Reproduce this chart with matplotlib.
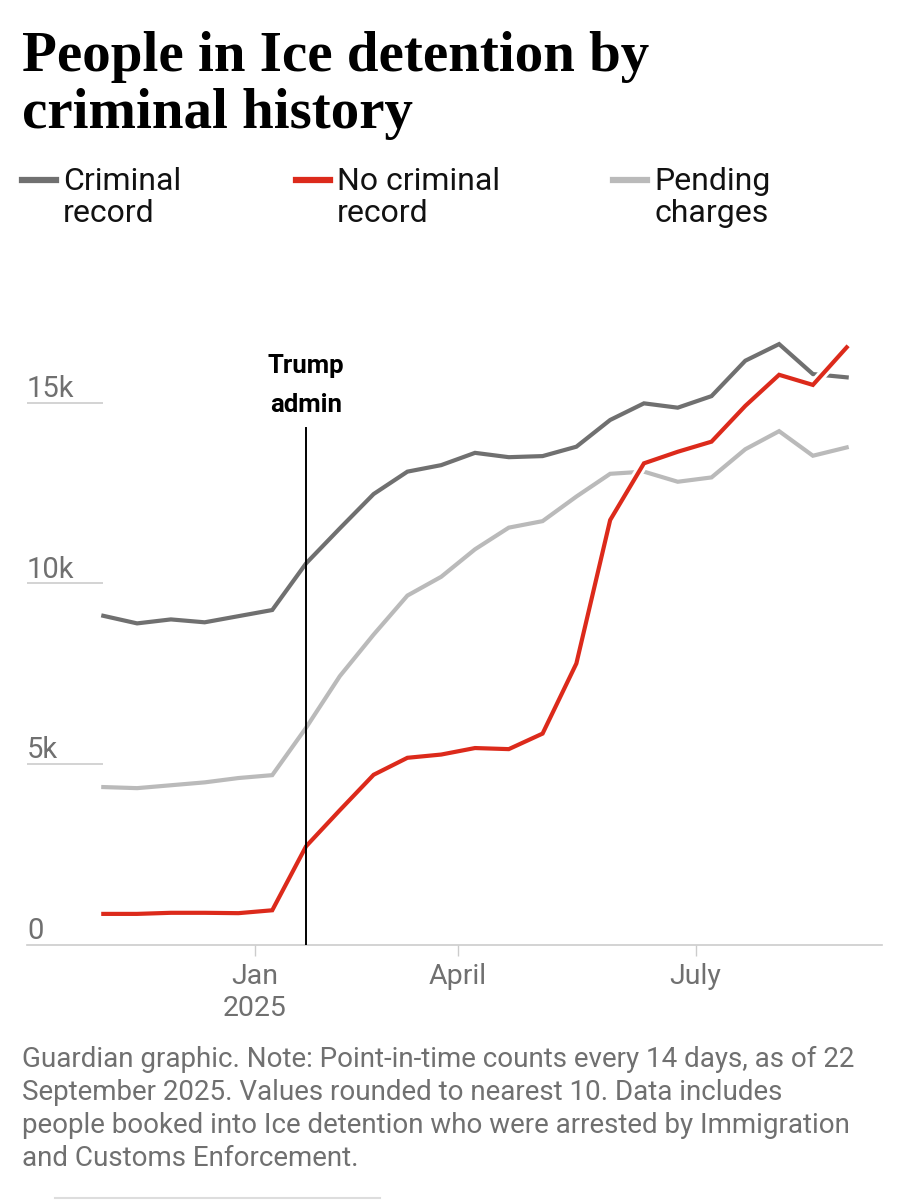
import numpy as np
import matplotlib
matplotlib.use("Agg")
import matplotlib.pyplot as plt
import matplotlib.patheffects as pe
from matplotlib.lines import Line2D

# counts every 14 days (people)
criminal = [9100, 8890, 9000, 8920, 9090, 9260, 10550, 11520, 12470, 13090, 13270, 13610,
            13490, 13520, 13780, 14520, 14980, 14860, 15180, 16160, 16620, 15790, 15700]
no_criminal = [850, 850, 880, 880, 870, 950, 2720, 3720, 4700, 5170, 5260, 5440,
               5410, 5840, 7780, 11750, 13320, 13640, 13920, 14910, 15770, 15490, 16530]
pending = [4360, 4330, 4410, 4490, 4610, 4690, 6000, 7430, 8580, 9660, 10180, 10940,
           11540, 11720, 12400, 13030, 13090, 12810, 12930, 13710, 14210, 13530, 13760]

series_names = ["Criminal\nrecord", "No criminal\nrecord", "Pending\ncharges"]
colors = ["#707070", "#dc2a1b", "#bababa"]

tick_pos = [4.48, 10.5, 17.53]
tick_labels = ["Jan\n2025", "April", "July"]
y_ticks = [0, 5000, 10000, 15000]
y_labels = ["0", "5k", "10k", "15k"]
trump_idx = 6

title = "People in Ice detention by\ncriminal history"
note = ("Guardian graphic. Note: Point-in-time counts every 14 days, as of 22\n"
        "September 2025. Values rounded to nearest 10. Data includes\n"
        "people booked into Ice detention who were arrested by Immigration\n"
        "and Customs Enforcement.")

W, H = 901, 1200
fig = plt.figure(figsize=(W / 100, H / 100), dpi=100)
fig.patch.set_facecolor("white")

def fx(px):
    return px / W

def fy(py):
    return 1 - py / H

sans = ["Roboto", "DejaVu Sans"]
grey = "#707070"

ax = fig.add_axes([fx(27), fy(944.6), fx(882) - fx(27), fy(330) - fy(944.6)])
x = np.arange(len(criminal))
ax.set_xlim(-2.258, 23.045)
ax.set_ylim(0, 17010)

# gridlines (short, only under the labels)
for yv in y_ticks[1:]:
    ax.hlines(yv, -2.258, 0, color="#cccccc", lw=1.2, zorder=1)
for yv, lab in zip(y_ticks, y_labels):
    ax.text(-2.258, yv + 160, lab, fontsize=21, color=grey, family=sans,
            ha="left", va="baseline")

halo = [pe.Stroke(linewidth=7, foreground="white"), pe.Normal()]
ax.plot(x, pending, color=colors[2], lw=3, solid_joinstyle="miter", zorder=3, path_effects=halo)
ax.plot(x, criminal, color=colors[0], lw=3, solid_joinstyle="miter", zorder=4, path_effects=halo)
ax.plot(x, no_criminal, color=colors[1], lw=3, solid_joinstyle="miter", zorder=5, path_effects=halo)

# Trump admin marker
ax.axvline(trump_idx, ymin=0, ymax=(944.6 - 428) / 614.6, color="black", lw=1.4, zorder=6)
ax.text(trump_idx, 14610, "Trump\nadmin", ha="center", va="bottom", fontsize=18.5,
        fontweight="bold", family=sans, linespacing=1.8)

for s in ["top", "right", "left"]:
    ax.spines[s].set_visible(False)
ax.spines["bottom"].set_color("#cccccc")
ax.spines["bottom"].set_linewidth(1.2)
ax.set_yticks([])
ax.set_xticks(tick_pos)
ax.set_xticklabels(tick_labels, fontsize=20.5, color=grey, family=sans, linespacing=1.25)
ax.tick_params(axis="x", length=8, width=1, color="#cccccc", pad=5)

# title
fig.text(fx(22), fy(31), title, fontsize=41, fontweight="bold", family=["Liberation Serif"],
         ha="left", va="top", linespacing=1.12)

# legend
leg_x = [22, 296, 613]
for lx, name, c in zip(leg_x, series_names, colors):
    fig.add_artist(Line2D([fx(lx), fx(lx + 34)], [fy(180), fy(180)], color=c, lw=4.5))
    fig.text(fx(lx + 41), fy(167), name, fontsize=23, family=sans, ha="left", va="top",
             linespacing=1.15, color="#121212")

# note
fig.text(fx(22), fy(1046), note, fontsize=20, color=grey, family=sans, ha="left", va="top",
         linespacing=1.28)

fig.add_artist(Line2D([fx(55), fx(380)], [fy(1198), fy(1198)], color="#dddddd", lw=1.5))

fig.savefig("out.png", dpi=100, facecolor="white")
